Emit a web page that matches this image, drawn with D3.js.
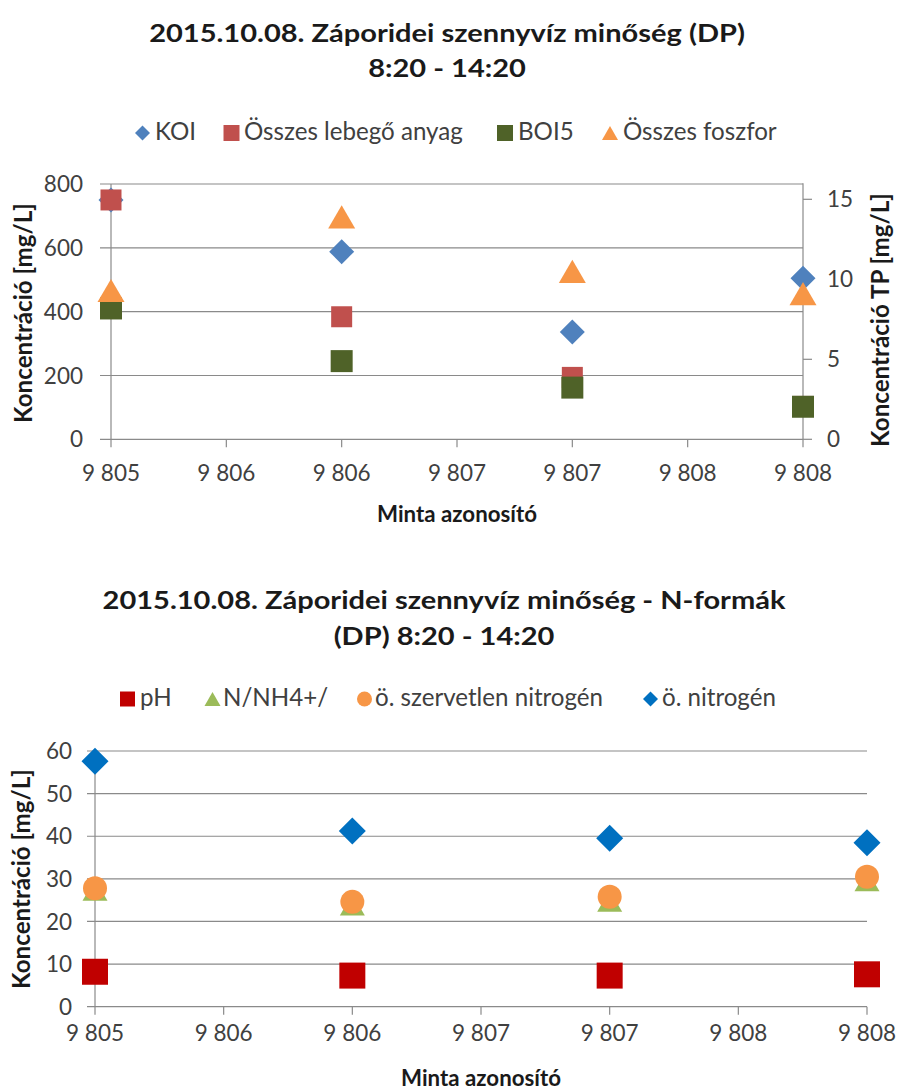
<!DOCTYPE html>
<html><head><meta charset="utf-8">
<script src="https://cdn.jsdelivr.net/npm/d3@7"></script>
<style>html,body{margin:0;padding:0;background:#fff}</style>
</head><body>
<svg id="c" width="897" height="1090"></svg>
<script>
// ---------- DATA ----------
const samples = [9805, 9806, 9807, 9808];
const xTickValues = [9805, 9805.5, 9806, 9806.5, 9807, 9807.5, 9808];

const topTitle = ["2015.10.08. Záporidei szennyvíz minőség (DP)", "8:20 - 14:20"];
const topSeriesNames = ["KOI", "Összes lebegő anyag", "BOI5", "Összes foszfor"];
const koi = [750, 588, 336, 505];
const lebego = [750, 384, 194, 103];
const boi5 = [410, 245, 162, 102];
const foszfor = [9.3, 13.9, 10.5, 9.1];
const topLeftTicks = [0, 200, 400, 600, 800];
const topRightTicks = [0, 5, 10, 15];

const botTitle = ["2015.10.08. Záporidei szennyvíz minőség - N-formák", "(DP) 8:20 - 14:20"];
const botSeriesNames = ["pH", "N/NH4+/", "ö. szervetlen nitrogén", "ö. nitrogén"];
const ph = [8.2, 7.3, 7.3, 7.6];
const nh4 = [27.4, 23.9, 24.8, 29.6];
const szervetlenN = [27.8, 24.6, 25.8, 30.5];
const osszN = [57.6, 41.2, 39.5, 38.5];
const botTicks = [0, 10, 20, 30, 40, 50, 60];

const yTitle = "Koncentráció [mg/L]";
const yTitleTP = "Koncentráció TP [mg/L]";
const xTitle = "Minta azonosító";

// ---------- SETUP ----------
const FONT = "Lato, 'Open Sans', sans-serif";
const svg = d3.select("#c");
const GRID = "#8a8a8a";
const TXT = "#404040";

function measure(text, size, weight) {
  const t = svg.append("text").attr("font-family", FONT).attr("font-size", size)
    .attr("font-weight", weight).text(text);
  const w = t.node().getComputedTextLength(); t.remove(); return w;
}
function fit(text, weight, target) { return 100 * target / measure(text, 100, weight); }

const titleSize = 25.5;
const titleScale = 596 / measure(topTitle[0], titleSize, "bold");
const legendSize = fit(topSeriesNames[1], "normal", 219);
const tickSize = fit("9 805", "normal", 58);
const axTitleSize = fit(yTitle, "bold", 220);
const xTitleSize = fit(xTitle, "bold", 160);

const loc = d3.formatLocale({decimal: ",", thousands: " ", grouping: [3], currency: ["", ""]});
const fmtX = loc.format(",.0f");

// custom symbols: size = half-width
const symSquare = {draw(c, r) { c.rect(-r, -r, 2 * r, 2 * r); }};
const symDiamond = {draw(c, r) { c.moveTo(0, -r); c.lineTo(r, 0); c.lineTo(0, r); c.lineTo(-r, 0); c.closePath(); }};
const symTriangle = {draw(c, r) { const h = r * 0.86; c.moveTo(0, -h); c.lineTo(r, h); c.lineTo(-r, h); c.closePath(); }};
const symCircle = {draw(c, r) { c.moveTo(r, 0); c.arc(0, 0, r, 0, 2 * Math.PI); }};

function drawTitle(lines, cx, y1, y2) {
  [[lines[0], y1], [lines[1], y2]].forEach(([t, y]) => {
    svg.append("text").attr("transform", `translate(${cx},${y}) scale(${titleScale},1)`)
      .attr("text-anchor", "middle")
      .attr("font-family", FONT).attr("font-weight", "bold").attr("font-size", titleSize)
      .attr("fill", "#1a1a1a").text(t);
  });
}

function drawLegend(items, y) {
  items.forEach(it => {
    svg.append("path").attr("transform", `translate(${it.mx},${y - 7})`)
      .attr("d", d3.symbol().type(it.sym).size(it.ms)()).attr("fill", it.color);
    svg.append("text").attr("x", it.tx).attr("y", y).attr("font-family", FONT)
      .attr("font-size", legendSize).attr("fill", TXT).text(it.name);
  });
}

function drawFrame(x, y, ticks, left, right, labelEnd, xLabY, gridStart) {
  const g = svg.append("g");
  g.selectAll("line.grid").data(ticks.filter(d => d !== 0)).join("line")
    .attr("x1", gridStart).attr("x2", right).attr("y1", d => y(d)).attr("y2", d => y(d))
    .attr("stroke", GRID).attr("stroke-width", 1.2);
  g.append("line").attr("x1", gridStart).attr("x2", right).attr("y1", y(0)).attr("y2", y(0))
    .attr("stroke", GRID).attr("stroke-width", 1.2);
  g.append("line").attr("x1", left).attr("x2", left).attr("y1", y(ticks[ticks.length - 1])).attr("y2", y(0))
    .attr("stroke", GRID).attr("stroke-width", 1.2);
  g.selectAll("text.yl").data(ticks).join("text")
    .attr("x", labelEnd).attr("y", d => y(d)).attr("dy", "0.36em").attr("text-anchor", "end")
    .attr("font-family", FONT).attr("font-size", tickSize).attr("fill", TXT).text(d => d);
  g.selectAll("line.xt").data(xTickValues).join("line")
    .attr("x1", d => x(d)).attr("x2", d => x(d)).attr("y1", y(0)).attr("y2", y(0) + 8)
    .attr("stroke", GRID).attr("stroke-width", 1.2);
  g.selectAll("text.xl").data(xTickValues).join("text")
    .attr("x", d => x(d)).attr("y", xLabY).attr("text-anchor", "middle")
    .attr("font-family", FONT).attr("font-size", tickSize).attr("fill", TXT).text(d => fmtX(d));
}

function drawSeries(vals, x, y, sym, r, color) {
  svg.append("g").selectAll("path").data(vals).join("path")
    .attr("transform", (d, i) => `translate(${x(samples[i])},${y(d)})`)
    .attr("d", d3.symbol().type(sym).size(r)())
    .attr("fill", color);
}

function vTitle(text, cx, cy, size) {
  svg.append("text").attr("transform", `translate(${cx},${cy}) rotate(-90)`)
    .attr("text-anchor", "middle").attr("dy", "0.35em")
    .attr("font-family", FONT).attr("font-weight", "bold").attr("font-size", size)
    .attr("fill", "#1a1a1a").text(text);
}

// ---------- TOP CHART ----------
{
  const x = d3.scaleLinear().domain([9805, 9808]).range([111, 803]);
  const yL = d3.scaleLinear().domain([0, 800]).range([439.3, 184]);
  const yR = d3.scaleLinear().domain([0, 16]).range([439.3, 183.3]);
  drawTitle(topTitle, 447, 42, 77);
  drawLegend([
    {name: topSeriesNames[0], sym: symDiamond, ms: 7.5, color: "#4F81BD", mx: 142.5, tx: 155},
    {name: topSeriesNames[1], sym: symSquare, ms: 8, color: "#C0504D", mx: 231.5, tx: 244},
    {name: topSeriesNames[2], sym: symSquare, ms: 8, color: "#4F6228", mx: 505, tx: 518},
    {name: topSeriesNames[3], sym: symTriangle, ms: 8, color: "#F79646", mx: 610, tx: 623}
  ], 140);
  drawFrame(x, yL, topLeftTicks, 111, 803, 83, 481, 100);
  svg.append("line").attr("x1", 803).attr("x2", 803).attr("y1", yR(16)).attr("y2", yR(0))
    .attr("stroke", GRID).attr("stroke-width", 1.2);
  svg.selectAll("line.rt").data(topRightTicks).join("line")
    .attr("x1", 803).attr("x2", 812).attr("y1", d => yR(d)).attr("y2", d => yR(d))
    .attr("stroke", GRID).attr("stroke-width", 1.2);
  svg.selectAll("text.rl").data(topRightTicks).join("text")
    .attr("x", 827).attr("y", d => yR(d)).attr("dy", "0.36em")
    .attr("font-family", FONT).attr("font-size", tickSize).attr("fill", TXT).text(d => d);

  drawSeries(koi, x, yL, symDiamond, 12.5, "#4F81BD");
  drawSeries(lebego, x, yL, symSquare, 10.5, "#C0504D");
  drawSeries(boi5, x, yL, symSquare, 11, "#4F6228");
  drawSeries(foszfor, x, yR, symTriangle, 13.5, "#F79646");

  vTitle(yTitle, 24, 313, axTitleSize);
  vTitle(yTitleTP, 881, 320, axTitleSize);
  svg.append("text").attr("x", 457).attr("y", 522).attr("text-anchor", "middle")
    .attr("font-family", FONT).attr("font-weight", "bold").attr("font-size", xTitleSize)
    .attr("fill", "#1a1a1a").text(xTitle);
}

// ---------- BOTTOM CHART ----------
{
  const x = d3.scaleLinear().domain([9805, 9808]).range([95, 867]);
  const y = d3.scaleLinear().domain([0, 60]).range([1006.7, 751]);
  drawTitle(botTitle, 444, 609, 645);
  drawLegend([
    {name: botSeriesNames[0], sym: symSquare, ms: 7.5, color: "#C00000", mx: 127.5, tx: 140},
    {name: botSeriesNames[1], sym: symTriangle, ms: 8, color: "#9BBB59", mx: 212.5, tx: 223},
    {name: botSeriesNames[2], sym: symCircle, ms: 7.5, color: "#F79646", mx: 364.5, tx: 375},
    {name: botSeriesNames[3], sym: symDiamond, ms: 7.5, color: "#0070C0", mx: 650.5, tx: 662}
  ], 706);
  drawFrame(x, y, botTicks, 95, 867, 72, 1041, 87);

  drawSeries(ph, x, y, symSquare, 13, "#C00000");
  drawSeries(nh4, x, y, symTriangle, 12.5, "#9BBB59");
  drawSeries(szervetlenN, x, y, symCircle, 12, "#F79646");
  drawSeries(osszN, x, y, symDiamond, 13.5, "#0070C0");

  vTitle(yTitle, 22, 879, axTitleSize);
  svg.append("text").attr("x", 481).attr("y", 1086).attr("text-anchor", "middle")
    .attr("font-family", FONT).attr("font-weight", "bold").attr("font-size", xTitleSize)
    .attr("fill", "#1a1a1a").text(xTitle);
}
</script>
</body></html>
